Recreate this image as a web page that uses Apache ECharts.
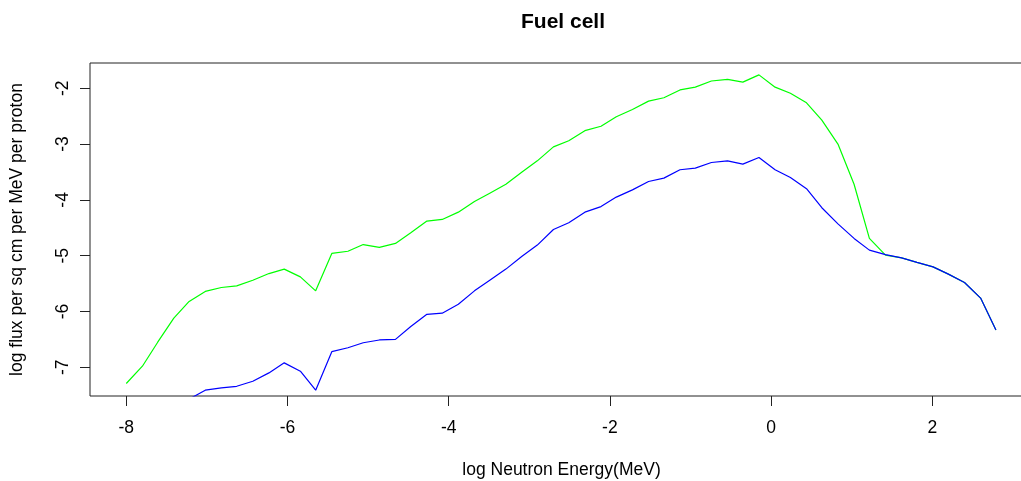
<!DOCTYPE html>
<html>
<head>
<meta charset="utf-8">
<title>Fuel cell</title>
<script src="https://cdn.jsdelivr.net/npm/echarts@6/dist/echarts.min.js"></script>
<style>
    html, body { margin: 0; padding: 0; background: #fff; }
    #main { width: 1021px; height: 481px; }
</style>
</head>
<body>
<div id="main"></div>
<script>
// log10 of neutron energy (MeV)
var logEnergy = [-8.00, -7.80, -7.61, -7.41, -7.22, -7.02, -6.82, -6.63, -6.43, -6.23,
    -6.04, -5.84, -5.65, -5.45, -5.25, -5.06, -4.86, -4.66, -4.47, -4.27,
    -4.08, -3.88, -3.68, -3.49, -3.29, -3.09, -2.90, -2.70, -2.51, -2.31,
    -2.11, -1.92, -1.72, -1.52, -1.33, -1.13, -0.94, -0.74, -0.54, -0.35,
    -0.15, 0.05, 0.24, 0.44, 0.63, 0.83, 1.03, 1.22, 1.42, 1.62,
    1.81, 2.01, 2.20, 2.40, 2.60, 2.79];

// green curve
var fluxGreen = [-7.29, -6.98, -6.55, -6.12, -5.82, -5.64, -5.57, -5.54, -5.44, -5.32,
    -5.24, -5.38, -5.63, -4.96, -4.92, -4.80, -4.85, -4.78, -4.59, -4.38,
    -4.35, -4.22, -4.03, -3.88, -3.72, -3.50, -3.30, -3.05, -2.94, -2.76,
    -2.68, -2.51, -2.38, -2.23, -2.17, -2.03, -1.98, -1.87, -1.84, -1.89,
    -1.76, -1.98, -2.09, -2.26, -2.57, -3.00, -3.72, -4.69, -4.99, -5.04,
    -5.12, -5.20, -5.33, -5.48, -5.76, -6.33];

// blue curve (first points fall below the plot)
var fluxBlue = [-9.05, -8.73, -8.30, -7.87, -7.57, -7.41, -7.37, -7.34, -7.25, -7.10,
    -6.92, -7.07, -7.41, -6.72, -6.65, -6.56, -6.51, -6.50, -6.27, -6.05,
    -6.03, -5.87, -5.63, -5.44, -5.24, -5.01, -4.81, -4.53, -4.41, -4.22,
    -4.12, -3.95, -3.82, -3.67, -3.61, -3.46, -3.43, -3.33, -3.30, -3.36,
    -3.24, -3.46, -3.60, -3.80, -4.14, -4.43, -4.69, -4.90, -4.98, -5.04,
    -5.12, -5.20, -5.33, -5.48, -5.76, -6.33];

var xTicks = [-8, -6, -4, -2, 0, 2];
var yTicks = [-7, -6, -5, -4, -3, -2];

function pairs(xs, ys) {
    var out = [];
    for (var i = 0; i < xs.length; i++) {
        out.push([xs[i], ys[i]]);
    }
    return out;
}

var fontFam = '"Liberation Sans", Arial, Helvetica, sans-serif';
var myChart = echarts.init(document.getElementById('main'));

var option = {
    animation: false,
    backgroundColor: '#fff',
    textStyle: { fontFamily: fontFam },
    title: {
        text: 'Fuel cell',
        left: 516,
        top: 7,
        textStyle: { fontSize: 21, fontWeight: 'bold', color: '#000', fontFamily: fontFam }
    },
    grid: {
        left: 90,
        top: 63,
        width: 943,
        height: 333,
        containLabel: false,
        outerBoundsMode: 'none',
        show: true,
        borderColor: '#222',
        borderWidth: 1,
        backgroundColor: 'transparent'
    },
    xAxis: {
        type: 'value',
        min: -8.45,
        max: 3.25,
        name: 'log Neutron Energy(MeV)',
        nameLocation: 'middle',
        nameGap: 65,
        nameTextStyle: { fontSize: 17.5, color: '#000', fontFamily: fontFam },
        axisLine: { show: false, onZero: false },
        splitLine: { show: false },
        axisTick: { show: true, length: 10, customValues: xTicks, lineStyle: { color: '#222' } },
        axisLabel: { customValues: xTicks, margin: 23, fontSize: 17.5, color: '#000', fontFamily: fontFam }
    },
    yAxis: {
        type: 'value',
        min: -7.514,
        max: -1.547,
        name: 'log flux per sq cm per MeV per proton',
        nameLocation: 'middle',
        nameRotate: 90,
        nameGap: 64,
        nameTextStyle: { fontSize: 17.5, color: '#000', fontFamily: fontFam },
        axisLine: { show: false, onZero: false },
        splitLine: { show: false },
        axisTick: { show: true, length: 10, customValues: yTicks, lineStyle: { color: '#222' } },
        axisLabel: { customValues: yTicks, rotate: 90, margin: 18, fontSize: 17.5, color: '#000', fontFamily: fontFam }
    },
    series: [
        {
            name: 'green',
            type: 'line',
            data: pairs(logEnergy, fluxGreen),
            symbol: 'none',
            clip: true,
            lineStyle: { color: '#00ff00', width: 1.2 }
        },
        {
            name: 'blue',
            type: 'line',
            data: pairs(logEnergy, fluxBlue),
            symbol: 'none',
            clip: true,
            lineStyle: { color: '#0000ff', width: 1.2 }
        }
    ]
};
myChart.setOption(option);
</script>
</body>
</html>
